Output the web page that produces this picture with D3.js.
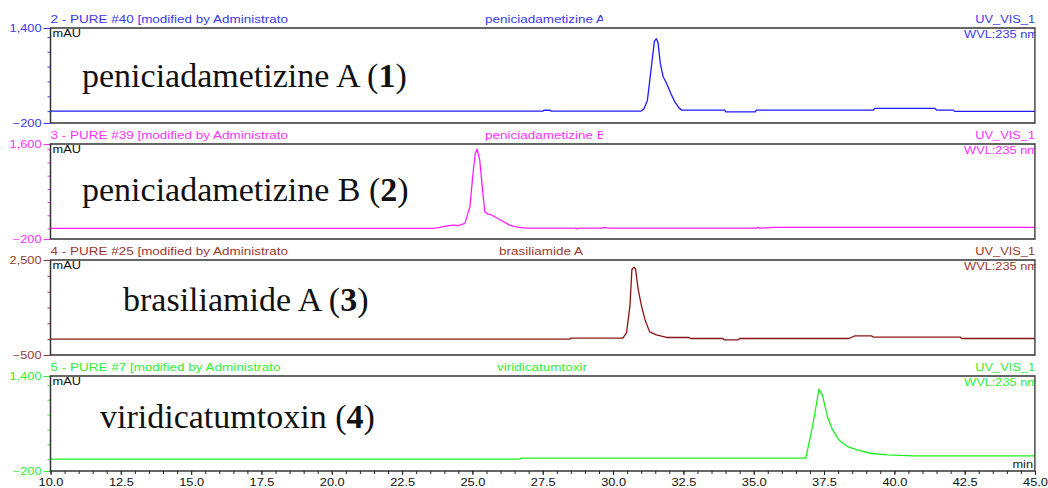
<!DOCTYPE html>
<html lang="en">
<head>
<meta charset="utf-8">
<title>HPLC traces</title>
<script src="https://cdn.jsdelivr.net/npm/d3@7"></script>
<style>
  body { margin: 0; background: #fff; }
  svg { display: block; }
</style>
</head>
<body>
<script>
// retention time axis
var xTicks = [10, 12.5, 15, 17.5, 20, 22.5, 25, 27.5, 30, 32.5, 35, 37.5, 40, 42.5, 45];

// trace 1 - peniciadametizine A
var t1 = [10, 27.5, 27.55, 27.75, 27.8, 31.0, 31.1, 31.22, 31.35, 31.47, 31.54, 31.6, 31.68, 31.78, 31.9, 32.05, 32.2, 32.35, 32.45, 33.97, 34.0, 35.05, 35.1, 39.25, 39.3, 41.45, 41.5, 42.1, 42.15, 45];
var v1 = [0, 0, 15, 15, 0, 0, 40, 180, 700, 1180, 1220, 1150, 800, 580, 470, 300, 150, 50, 17, 17, -11, -11, 17, 17, 45, 45, 17, 17, -5, -5];

// trace 2 - peniciadametizine B
var t2 = [10, 23.6, 23.84, 24.1, 24.31, 24.5, 24.73, 24.91, 25.02, 25.1, 25.17, 25.26, 25.36, 25.44, 25.55, 25.68, 25.97, 26.32, 26.6, 26.92, 28.65, 28.7, 28.78, 29.62, 29.68, 29.85, 35.1, 35.15, 35.22, 35.74, 45];
var v2 = [0, 0, 19, 50, 63, 55, 95, 409, 1042, 1420, 1500, 1294, 726, 315, 270, 255, 170, 63, 25, 6, 6, -8, 6, 6, 20, 5, 5, 20, 5, 19, 19];

// trace 3 - brasiliamide A
var t3 = [10, 28.46, 28.5, 30.35, 30.48, 30.6, 30.67, 30.75, 30.8, 30.89, 31.01, 31.13, 31.3, 31.54, 31.9, 32.7, 32.75, 33.9, 33.95, 34.45, 34.5, 38.38, 38.6, 39.19, 39.26, 42.35, 42.4, 45];
var v3 = [0, 0, 32, 32, 208, 1052, 2210, 2270, 2210, 1580, 1052, 632, 230, 136, 53, 53, 21, 21, -21, -21, 21, 21, 105, 105, 63, 63, 21, 21];

// trace 4 - viridicatumtoxin
var t4 = [10, 26.69, 26.74, 36.85, 37.09, 37.32, 37.44, 37.62, 37.8, 38.03, 38.33, 38.68, 39.15, 39.74, 40.69, 45];
var v4 = [0, 0, 17, 17, 548, 1177, 1081, 717, 492, 324, 211, 155, 99, 71, 54, 54];

var times = [t1, t2, t3, t4];
var values = [v1, v2, v3, v4];
var yDomains = [[-200, 1400], [-200, 1600], [-500, 2500], [-200, 1400]];
var yMinorStep = [250, 250, 500, 250];
var headers = ["2 - PURE #40 [modified by Administrato", "3 - PURE #39 [modified by Administrato",
               "4 - PURE #25 [modified by Administrato", "5 - PURE #7 [modified by Administrato"];
var sampleNames = ["peniciadametizine A", "peniciadametizine B", "brasiliamide A", "viridicatumtoxin"];
var compounds = ["peniciadametizine A", "peniciadametizine B", "brasiliamide A", "viridicatumtoxin"];
var compoundNo = ["1", "2", "3", "4"];
var lineColors = ["#1c1cff", "#ff1cff", "#8a1414", "#1cee1c"];
var textColors = ["#3a3aee", "#ff33ff", "#9a3a30", "#33ee33"];

var width = 1048, height = 488;
var left = 50.5, right = 1035, panelH = 95, panelStep = 116, firstTop = 28;
var sx = 1.35;   // the small instrument text is stretched sideways
var sxNum = 1.28;
var sans = "'Liberation Sans', Arial, sans-serif";
var serif = "'Liberation Serif', 'Times New Roman', serif";

// label positions of the big compound names
var bigX = [82, 82, 123, 100];
var bigY = [87, 201, 311, 428];
var nameClip = [[480, 603], [480, 603], [480, 600], [480, 587]];
var nameX = [485, 485, 499, 497];

var svg = d3.select("body").append("svg")
    .attr("width", width)
    .attr("height", height);

svg.append("rect").attr("width", width).attr("height", height).attr("fill", "#fff");

var x = d3.scaleLinear().domain([10, 45]).range([left, right]);

function smallText(g, tx, ty, str, anchor, color, s) {
  return g.append("text")
      .attr("transform", "translate(" + tx + "," + ty + ") scale(" + (s || sx) + ",1)")
      .attr("text-anchor", anchor)
      .attr("font-family", sans)
      .attr("font-size", 10)
      .attr("fill", color)
      .text(str);
}

var defs = svg.append("defs");

for (var i = 0; i < 4; i++) {
  var pTop = firstTop + i * panelStep;
  var g = svg.append("g").attr("transform", "translate(0," + pTop + ")");
  var y = d3.scaleLinear().domain(yDomains[i]).range([panelH, 0]);

  defs.append("clipPath").attr("id", "plot" + i)
    .append("rect").attr("x", left).attr("y", 0).attr("width", right - left).attr("height", panelH);
  defs.append("clipPath").attr("id", "name" + i)
    .append("rect").attr("x", nameClip[i][0]).attr("y", -20)
    .attr("width", nameClip[i][1] - nameClip[i][0]).attr("height", 20);

  // header row above the frame
  smallText(g, left, -5, headers[i], "start", textColors[i]);
  g.append("g").attr("clip-path", "url(#name" + i + ")")
    .call(function(c) { smallText(c, nameX[i], -5, sampleNames[i], "start", textColors[i]); });
  smallText(g, right, -5, "UV_VIS_1", "end", textColors[i], sxNum);

  // trace
  var pts = times[i].map(function(t, k) { return [t, values[i][k]]; });
  var line = d3.line()
      .x(function(d) { return x(d[0]); })
      .y(function(d) { return y(d[1]); });
  g.append("path")
      .datum(pts)
      .attr("clip-path", "url(#plot" + i + ")")
      .attr("fill", "none")
      .attr("stroke", lineColors[i])
      .attr("stroke-width", 1.3)
      .attr("stroke-linejoin", "round")
      .attr("d", line);

  // y axis: minor ticks then labelled end ticks
  var minor = d3.range(0, yDomains[i][1], yMinorStep[i]);
  g.append("g")
      .attr("transform", "translate(" + left + ",0)")
      .call(d3.axisLeft(y).tickValues(minor).tickSize(3).tickFormat(""))
      .call(function(a) {
        a.select(".domain").remove();
        a.selectAll("line").attr("stroke", textColors[i]);
      });
  g.append("g")
      .attr("transform", "translate(" + left + ",0)")
      .call(d3.axisLeft(y).tickValues(yDomains[i]).tickSize(7).tickPadding(2).tickFormat(d3.format(",")))
      .call(function(a) {
        a.select(".domain").remove();
        a.selectAll("line").attr("stroke", textColors[i]);
        a.selectAll("text")
          .attr("x", -9 / sxNum)
          .attr("dy", "0.35em")
          .attr("transform", "scale(" + sxNum + ",1)")
          .attr("fill", textColors[i])
          .attr("font-family", sans)
          .attr("font-size", 10);
      });

  smallText(g, left + 2, 9, "mAU", "start", "#111", sxNum);
  smallText(g, right + 3, 10, "WVL:235 nm", "end", textColors[i], sxNum);

  // frame
  g.append("rect")
      .attr("x", left).attr("y", 0)
      .attr("width", right - left).attr("height", panelH)
      .attr("fill", "none")
      .attr("stroke", "#333")
      .attr("stroke-width", 1.5);
  g.append("rect")
      .attr("x", right + 0.75).attr("y", 0).attr("width", 12).attr("height", panelH)
      .attr("fill", "#fff");

  // compound name with bold number
  var big = g.append("text")
      .attr("x", bigX[i])
      .attr("y", bigY[i] - pTop)
      .attr("font-family", serif)
      .attr("font-size", 34)
      .attr("fill", "#111");
  big.append("tspan").text(compounds[i] + " (");
  big.append("tspan").attr("font-weight", "bold").text(compoundNo[i]);
  big.append("tspan").text(")");

  if (i === 3) {
    smallText(g, right - 2, panelH - 3, "min", "end", "#222", sxNum);

    var xg = g.append("g").attr("transform", "translate(0," + panelH + ")");
    xg.call(d3.axisBottom(x).tickValues(d3.range(10, 45.01, 0.5)).tickSize(3).tickFormat(""))
      .call(function(a) { a.select(".domain").remove(); a.selectAll("line").attr("stroke", "#222"); });
    var xg2 = g.append("g").attr("transform", "translate(0," + panelH + ")");
    xg2.call(d3.axisBottom(x).tickValues(xTicks).tickSize(4).tickFormat(d3.format(".1f")))
      .call(function(a) {
        a.select(".domain").remove();
        a.selectAll("line").attr("stroke", "#222");
        a.selectAll("text")
          .attr("y", 15).attr("dy", 0)
          .attr("transform", "scale(" + sxNum + ",1)")
          .attr("x", 0)
          .attr("fill", "#111")
          .attr("font-family", sans)
          .attr("font-size", 10);
      });
  }
}
</script>
</body>
</html>
